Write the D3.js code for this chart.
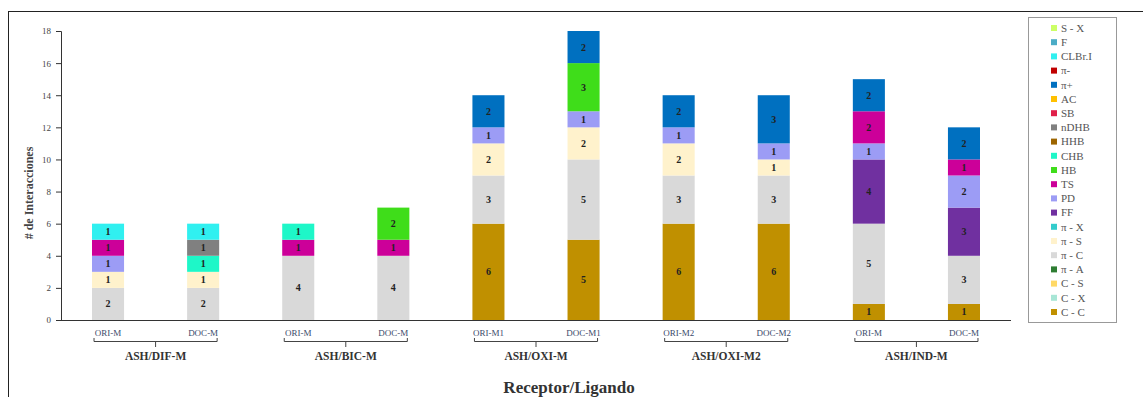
<!DOCTYPE html>
<html>
<head>
<meta charset="utf-8">
<script src="https://cdn.jsdelivr.net/npm/d3@7"></script>
<style>
  html, body { margin: 0; padding: 0; background: #fff; }
  svg { display: block; font-family: "Liberation Serif", "DejaVu Serif", serif; }
</style>
</head>
<body>
<svg id="chart" width="1143" height="397"></svg>
<script>
// Receptor/ligand pairs and their bar labels
const groups = ["ASH/DIF-M", "ASH/BIC-M", "ASH/OXI-M", "ASH/OXI-M2", "ASH/IND-M"];
const barLabels = ["ORI-M", "DOC-M", "ORI-M", "DOC-M", "ORI-M1", "DOC-M1", "ORI-M2", "DOC-M2", "ORI-M", "DOC-M"];
const barGroup = [0, 0, 1, 1, 2, 2, 3, 3, 4, 4];

// Interaction types, bottom of the stack first
const seriesNames = ["C - C", "C - X", "C - S", "π - A", "π - C", "π - S", "π - X", "FF", "PD", "TS",
  "HB", "CHB", "HHB", "nDHB", "SB", "AC", "π+", "π-", "CLBr.I", "F", "S - X"];
const seriesColors = ["#C09000", "#A8E6D6", "#FFD966", "#2E7D32", "#D9D9D9", "#FFF2CC", "#33CCCC", "#7030A0", "#9C9CF5", "#CC0099",
  "#3FDD1A", "#1EF7C8", "#9C6500", "#808080", "#E0204A", "#FFC000", "#0070C0", "#C00000", "#30F0F0", "#4BACC6", "#CCFF66"];

// Counts per interaction type, one entry per bar
const valCC   = [0, 0, 0, 0, 6, 5, 6, 6, 1, 1];
const valCX   = [0, 0, 0, 0, 0, 0, 0, 0, 0, 0];
const valCS   = [0, 0, 0, 0, 0, 0, 0, 0, 0, 0];
const valPiA  = [0, 0, 0, 0, 0, 0, 0, 0, 0, 0];
const valPiC  = [2, 2, 4, 4, 3, 5, 3, 3, 5, 3];
const valPiS  = [1, 1, 0, 0, 2, 2, 2, 1, 0, 0];
const valPiX  = [0, 0, 0, 0, 0, 0, 0, 0, 0, 0];
const valFF   = [0, 0, 0, 0, 0, 0, 0, 0, 4, 3];
const valPD   = [1, 0, 0, 0, 1, 1, 1, 1, 1, 2];
const valTS   = [1, 0, 1, 1, 0, 0, 0, 0, 2, 1];
const valHB   = [0, 0, 0, 2, 0, 3, 0, 0, 0, 0];
const valCHB  = [0, 1, 1, 0, 0, 0, 0, 0, 0, 0];
const valHHB  = [0, 0, 0, 0, 0, 0, 0, 0, 0, 0];
const valNDHB = [0, 1, 0, 0, 0, 0, 0, 0, 0, 0];
const valSB   = [0, 0, 0, 0, 0, 0, 0, 0, 0, 0];
const valAC   = [0, 0, 0, 0, 0, 0, 0, 0, 0, 0];
const valPiP  = [0, 0, 0, 0, 2, 2, 2, 3, 2, 2];
const valPiM  = [0, 0, 0, 0, 0, 0, 0, 0, 0, 0];
const valCLBr = [1, 1, 0, 0, 0, 0, 0, 0, 0, 0];
const valF    = [0, 0, 0, 0, 0, 0, 0, 0, 0, 0];
const valSX   = [0, 0, 0, 0, 0, 0, 0, 0, 0, 0];

const seriesValues = [valCC, valCX, valCS, valPiA, valPiC, valPiS, valPiX, valFF, valPD, valTS,
  valHB, valCHB, valHHB, valNDHB, valSB, valAC, valPiP, valPiM, valCLBr, valF, valSX];

const yTicks = [0, 2, 4, 6, 8, 10, 12, 14, 16, 18];

const svg = d3.select("#chart");

// outer frame
svg.append("rect")
  .attr("x", 8.5).attr("y", 11.5)
  .attr("width", 1145).attr("height", 400)
  .attr("fill", "none").attr("stroke", "#222").attr("stroke-width", 1);

const plot = { left: 61, right: 1011, top: 31, bottom: 320 };

const barIds = barLabels.map((d, i) => i);
const x = d3.scaleBand()
  .domain(barIds)
  .range([plot.left, plot.right])
  .paddingInner(0.663)
  .paddingOuter(0.326);

const y = d3.scaleLinear().domain([0, 18]).range([plot.bottom, plot.top]);

// table for the stack: one row per bar
const rows = barIds.map(i => {
  const r = { id: i };
  seriesNames.forEach((s, k) => { r[s] = seriesValues[k][i]; });
  return r;
});
const stacked = d3.stack().keys(seriesNames)(rows);

const layers = svg.append("g").selectAll("g")
  .data(stacked)
  .join("g")
  .attr("fill", (d, k) => seriesColors[k]);

layers.selectAll("rect")
  .data(d => d.filter(p => p[1] - p[0] > 0))
  .join("rect")
  .attr("x", p => x(p.data.id))
  .attr("y", p => y(p[1]))
  .attr("width", x.bandwidth())
  .attr("height", p => y(p[0]) - y(p[1]));

// value labels inside segments
layers.selectAll("text")
  .data(d => d.filter(p => p[1] - p[0] > 0))
  .join("text")
  .attr("x", p => x(p.data.id) + x.bandwidth() / 2)
  .attr("y", p => (y(p[0]) + y(p[1])) / 2)
  .attr("dy", "0.35em")
  .attr("text-anchor", "middle")
  .attr("fill", "#222")
  .attr("font-size", 10)
  .attr("font-weight", "bold")
  .text(p => p[1] - p[0]);

// y axis
const yAxis = svg.append("g")
  .attr("transform", `translate(${plot.left},0)`)
  .call(d3.axisLeft(y).tickValues(yTicks).tickSize(5).tickPadding(5));
yAxis.select(".domain").attr("stroke", "#333");
yAxis.selectAll(".tick line").attr("stroke", "#333");
yAxis.selectAll(".tick text")
  .attr("font-family", "Liberation Serif, serif")
  .attr("font-size", 9).attr("fill", "#444");

// x axis baseline
svg.append("line")
  .attr("x1", plot.left).attr("x2", plot.right)
  .attr("y1", plot.bottom + 0.5).attr("y2", plot.bottom + 0.5)
  .attr("stroke", "#333");

// bar labels
svg.append("g").selectAll("text")
  .data(barIds)
  .join("text")
  .attr("x", i => x(i) + x.bandwidth() / 2)
  .attr("y", 336)
  .attr("text-anchor", "middle")
  .attr("font-size", 9)
  .attr("fill", "#3a4a6a")
  .text(i => barLabels[i]);

// group brackets and names
const groupG = svg.append("g");
groups.forEach((g, gi) => {
  const ids = barIds.filter(i => barGroup[i] === gi);
  const x0 = x(ids[0]) + x.bandwidth() / 2 - 14;
  const x1 = x(ids[ids.length - 1]) + x.bandwidth() / 2 + 14;
  const xm = (x0 + x1) / 2;
  groupG.append("path")
    .attr("d", `M${x0},338 V341.5 H${x1} V338 M${xm},341.5 V347`)
    .attr("fill", "none").attr("stroke", "#444").attr("stroke-width", 1);
  groupG.append("text")
    .attr("x", xm).attr("y", 360)
    .attr("text-anchor", "middle")
    .attr("font-size", 11.5).attr("font-weight", "bold")
    .attr("fill", "#333")
    .text(g);
});

// axis titles
svg.append("text")
  .attr("x", 569).attr("y", 393)
  .attr("text-anchor", "middle")
  .attr("font-size", 17).attr("font-weight", "bold")
  .attr("fill", "#333")
  .text("Receptor/Ligando");

svg.append("text")
  .attr("transform", "translate(33,193) rotate(-90)")
  .attr("text-anchor", "middle")
  .attr("font-size", 12).attr("font-weight", "bold")
  .attr("fill", "#444")
  .text("# de Interacciones");

// legend, top of stack first
const legend = svg.append("g");
legend.append("rect")
  .attr("x", 1028.5).attr("y", 17.5)
  .attr("width", 88).attr("height", 305)
  .attr("fill", "#fff").attr("stroke", "#999");

const legendOrder = seriesNames.map((s, k) => k).reverse();
const ly = d3.scalePoint().domain(legendOrder).range([28, 312]);

const items = legend.selectAll("g.item")
  .data(legendOrder)
  .join("g")
  .attr("class", "item")
  .attr("transform", k => `translate(1051,${ly(k)})`);
items.append("rect")
  .attr("x", 0).attr("y", -3)
  .attr("width", 6).attr("height", 6)
  .attr("fill", k => seriesColors[k]);
items.append("text")
  .attr("x", 10).attr("dy", "0.35em")
  .attr("font-size", 11)
  .attr("fill", "#555")
  .text(k => seriesNames[k]);
</script>
</body>
</html>
